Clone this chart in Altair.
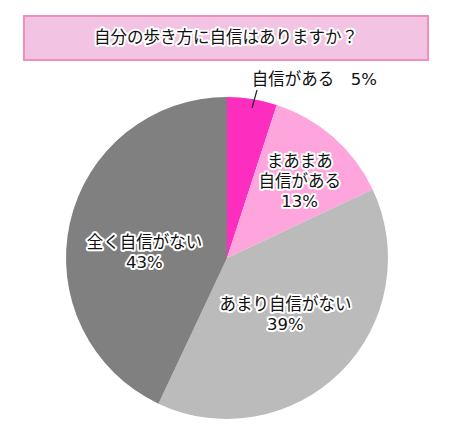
import altair as alt
import pandas as pd

categories = ["自信がある", "まあまあ自信がある", "あまり自信がない", "全く自信がない"]
values = [5, 13, 39, 43]
labels = ["自信がある　5%", "まあまあ\n自信がある\n13%", "あまり自信がない\n39%", "全く自信がない\n43%"]
colors = ["#FC2DBF", "#FFA5DD", "#BBBBBB", "#808080"]
title_text = "自分の歩き方に自信はありますか？"

df = pd.DataFrame({
    "category": categories,
    "value": values,
    "label": labels,
    "order": list(range(len(categories))),
})

FONT = "DejaVu Sans, Noto Sans CJK JP"
CX, CY, R = 219, 250, 161

pie = alt.Chart(df).mark_arc(outerRadius=R).encode(
    theta=alt.Theta("value:Q", stack=True),
    order=alt.Order("order:Q"),
    x=alt.value(CX), y=alt.value(CY),
    color=alt.Color("category:N", scale=alt.Scale(domain=categories, range=colors), legend=None),
)

# label anchor (first text line) placed in polar terms around the pie centre
lab = alt.Chart(df).transform_stack(
    stack="value", as_=["v0", "v1"], groupby=[], sort=[alt.SortField("order", "ascending")]
).transform_calculate(
    mid="(datum.v0 + datum.v1) / 2",
).transform_calculate(
    la="datum.order == 0 ? datum.mid : datum.order == 1 ? datum.mid - 1.15 : datum.order == 2 ? datum.mid - 1.7 : datum.mid - 0.6",
    rad="datum.order == 0 ? 183 : datum.order == 1 ? 120 : datum.order == 2 ? 75 : 84",
).encode(
    theta=alt.Theta("la:Q", stack=None, scale=alt.Scale(domain=[0, 100], range=[0, 6.283185307])),
    x=alt.value(CX), y=alt.value(CY),
    radius=alt.Radius("rad:Q", scale=None),
    text=alt.Text("label:N"),
)

def text_props(**kw):
    return dict(font=FONT, fontSize=16.5, lineBreak="\n", lineHeight=20, baseline="middle", **kw)

inner = "datum.order > 0"
halo_in = lab.transform_filter(inner).mark_text(
    **text_props(align="center", stroke="white", strokeWidth=4, strokeJoin="round", fill="white")
)
txt_in = lab.transform_filter(inner).mark_text(**text_props(align="center", fill="#111111"))
txt_out = lab.transform_filter("datum.order == 0").mark_text(
    **text_props(align="left", fill="#111111", dx=-4, dy=3)
)

leader = alt.Chart(df.head(1)).mark_rule(color="#222222", strokeWidth=1.2).encode(
    x=alt.value(249), y=alt.value(82), x2=alt.value(244), y2=alt.value(100)
)

tdf = pd.DataFrame({"t": [title_text]})
box = alt.Chart(tdf).mark_rect(
    fill="#F2C3E3", stroke="#EE90BC", strokeWidth=2
).encode(x=alt.value(16), x2=alt.value(420), y=alt.value(8), y2=alt.value(52))

title_halo = alt.Chart(tdf).mark_text(
    font=FONT, fontSize=16.5, stroke="white", strokeWidth=4, strokeJoin="round", fill="white",
    align="center", baseline="middle"
).encode(x=alt.value(218), y=alt.value(30), text="t:N")
title_txt = alt.Chart(tdf).mark_text(
    font=FONT, fontSize=16.5, fill="#111111", align="center", baseline="middle"
).encode(x=alt.value(218), y=alt.value(30), text="t:N")

chart = alt.layer(
    box, title_halo, title_txt, pie, leader, halo_in, txt_in, txt_out
).properties(
    width=436, height=415, padding=0, autosize=alt.AutoSizeParams(type="none")
).configure_view(stroke=None)

chart.save("out.html", embed_options={"renderer": "svg", "actions": False})
